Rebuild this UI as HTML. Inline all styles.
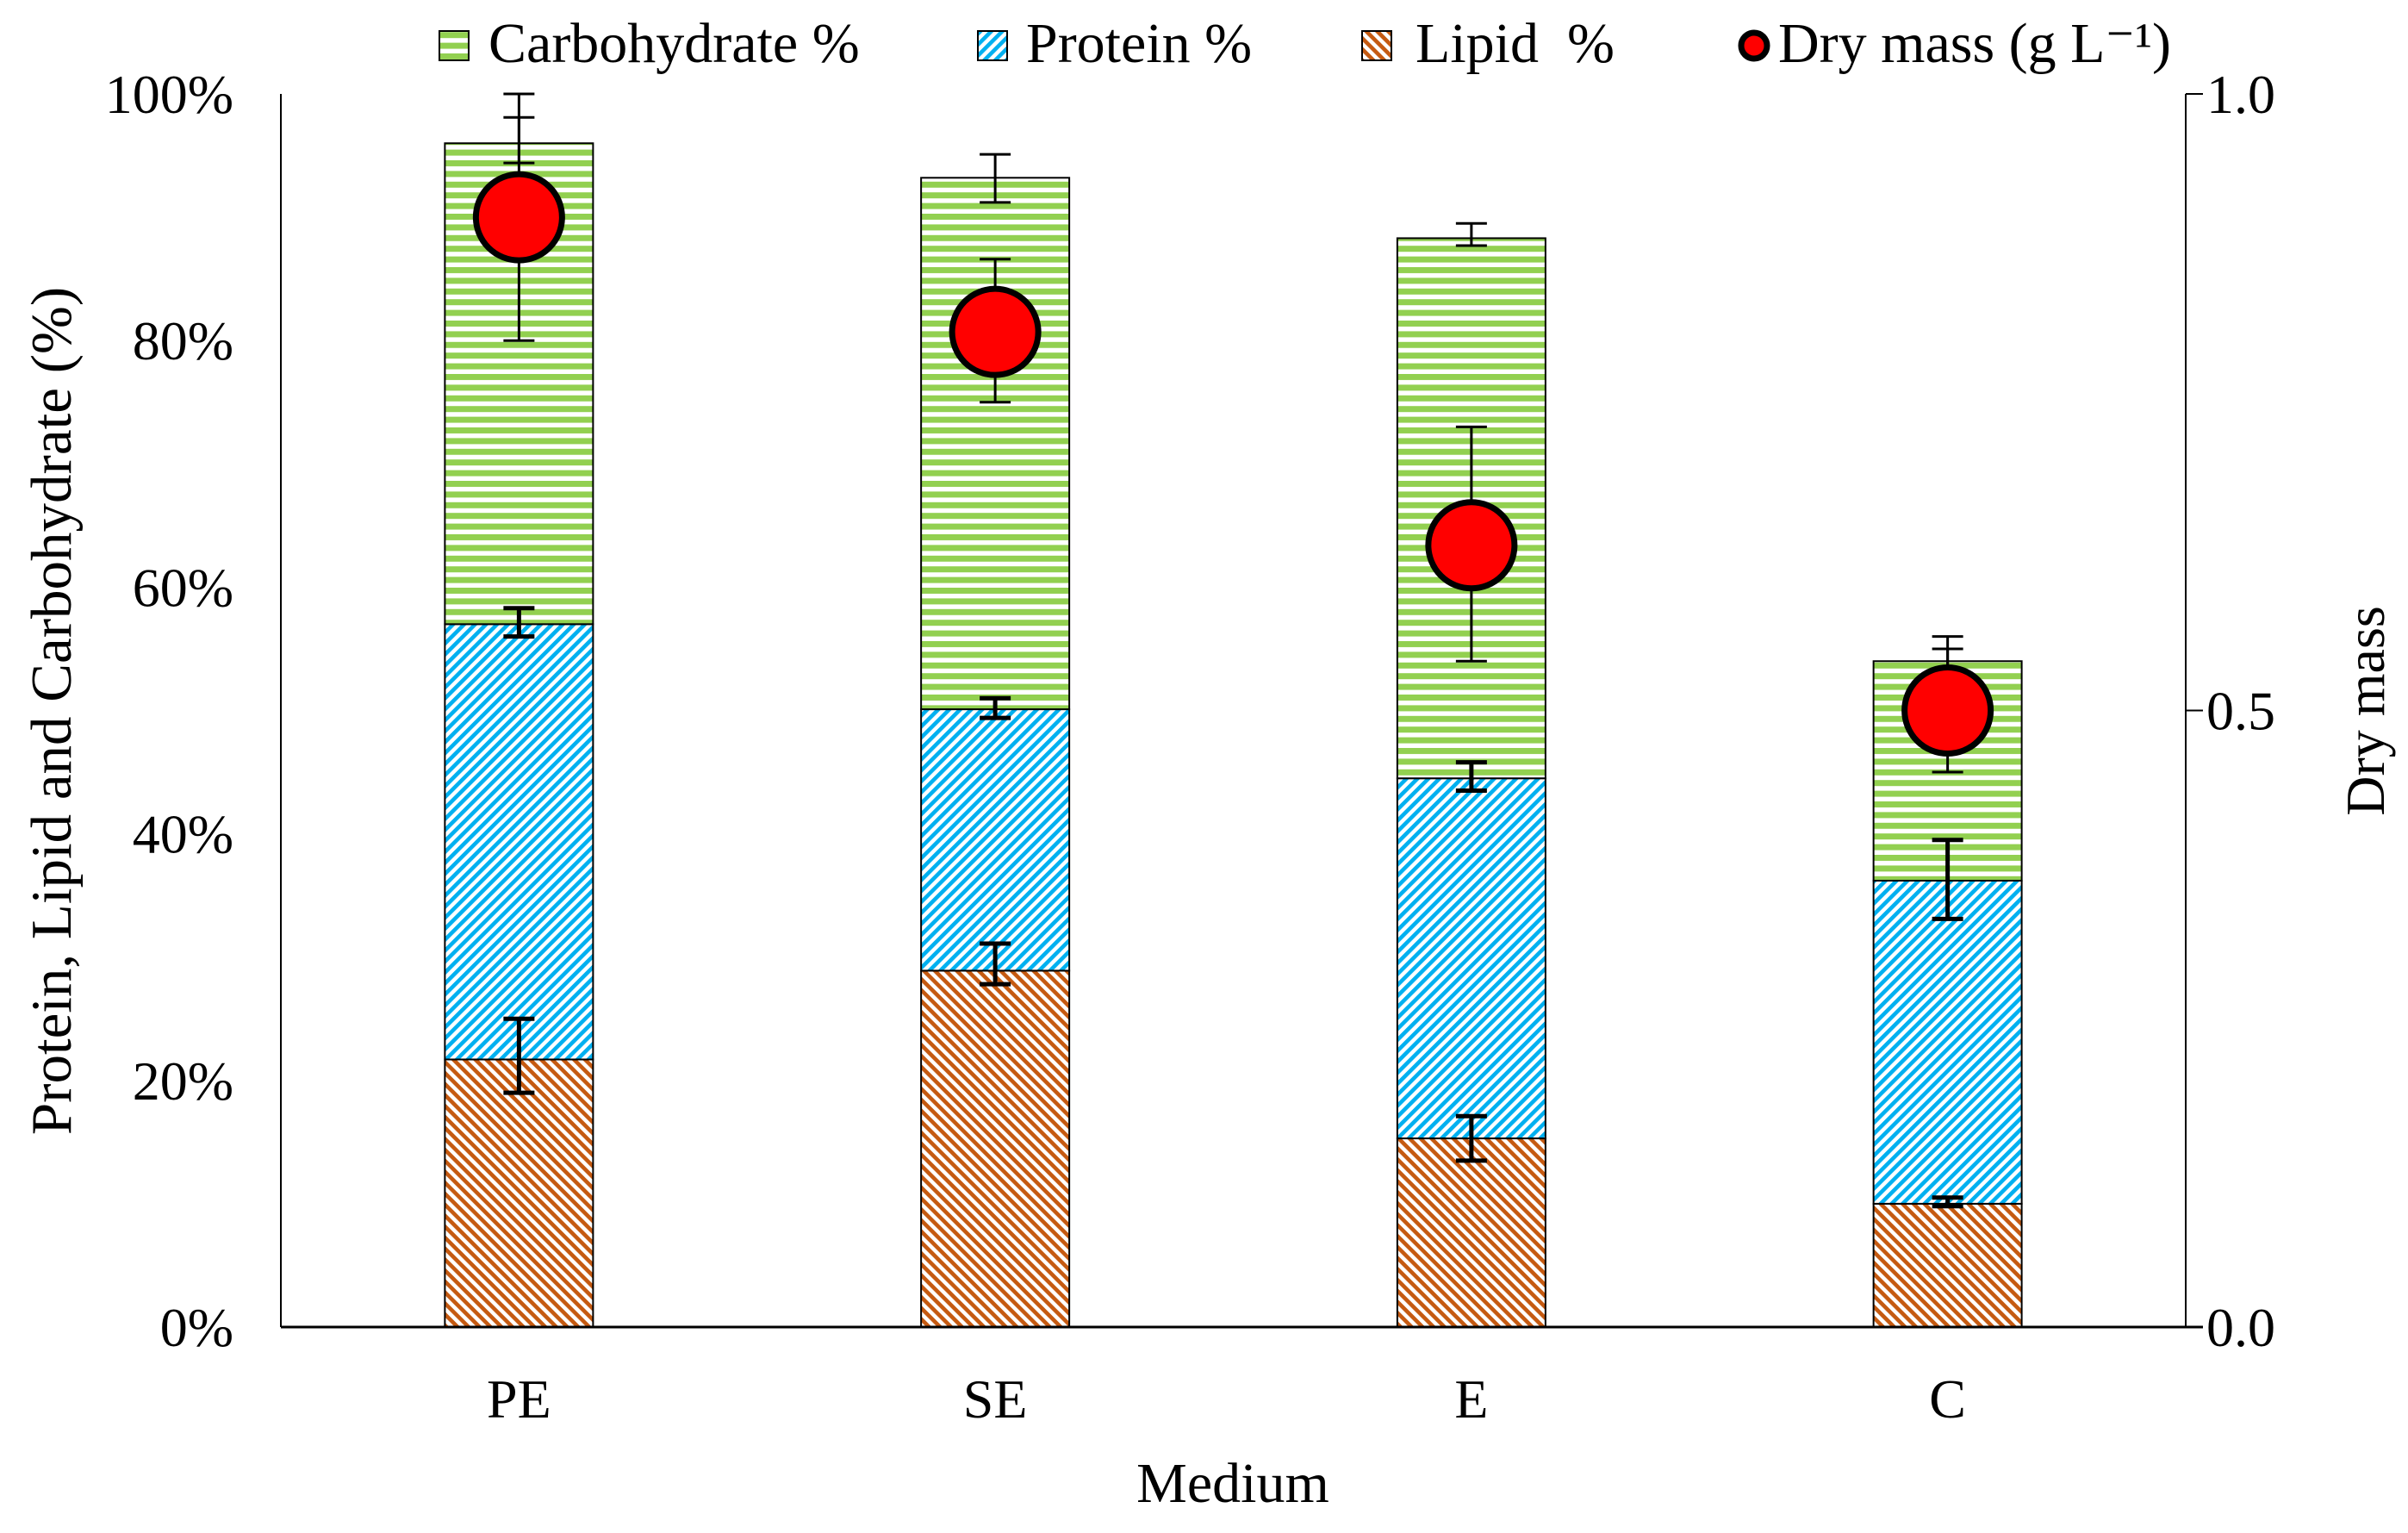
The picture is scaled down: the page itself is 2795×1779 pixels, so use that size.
<!DOCTYPE html>
<html><head><meta charset="utf-8">
<style>
html,body{margin:0;padding:0;background:#fff;}
svg{display:block;}
text{font-family:"Liberation Serif",serif;fill:#000;}
</style></head>
<body>
<svg id="chart" width="2795" height="1779" viewBox="0 0 2795 1779" xmlns="http://www.w3.org/2000/svg">
<defs>
  <pattern id="pCarb" patternUnits="userSpaceOnUse" width="12.4" height="12.4">
    <rect width="12.4" height="12.4" fill="#fff"/>
    <rect y="0" width="12.4" height="7" fill="#92D050"/>
  </pattern>
  <pattern id="pProt" patternUnits="userSpaceOnUse" width="9" height="9" patternTransform="rotate(-45)">
    <rect width="9" height="9" fill="#fff"/>
    <rect width="9" height="4.6" fill="#00B0F0"/>
  </pattern>
  <pattern id="pLip" patternUnits="userSpaceOnUse" width="9" height="9" patternTransform="rotate(45)">
    <rect width="9" height="9" fill="#fff"/>
    <rect width="9" height="4.6" fill="#C55A11"/>
  </pattern>
</defs>
<g id="plot"></g>
<g id="legend">
  <g>
    <rect x="510" y="36" width="34" height="34" fill="url(#pCarb)" stroke="#000" stroke-width="2"/>
    <text x="567" y="72" font-size="66">Carbohydrate %</text>
  </g>
  <g>
    <rect x="1135" y="36" width="34" height="34" fill="url(#pProt)" stroke="#000" stroke-width="2"/>
    <text x="1191" y="72" font-size="66">Protein %</text>
  </g>
  <g>
    <rect x="1581" y="36" width="34" height="34" fill="url(#pLip)" stroke="#000" stroke-width="2"/>
    <text x="1643" y="72" font-size="66">Lipid&#160;&#160;%</text>
  </g>
  <g>
    <circle cx="2036" cy="53" r="15" fill="#f00" stroke="#000" stroke-width="7"/>
    <text x="2064" y="72" font-size="66">Dry mass (g L⁻¹)</text>
  </g>
</g>
<text font-size="67" text-anchor="middle" transform="translate(82,825) rotate(-90)">Protein, Lipid and Carbohydrate (%)</text>
<text font-size="64" text-anchor="middle" transform="translate(2767,825) rotate(-90)">Dry mass</text>
<text font-size="66" text-anchor="middle" x="1431" y="1743">Medium</text>
</svg>
<script>
const categories = ["PE","SE","E","C"];
const lipid = [21.7, 28.9, 15.3, 10.0];
const lipidErrLo = [19.0, 27.8, 13.5, 9.8];
const lipidErrHi = [25.0, 31.1, 17.1, 10.5];
const proteinTop = [57.0, 50.1, 44.5, 36.2];
const proteinErrLo = [56.0, 49.4, 43.5, 33.1];
const proteinErrHi = [58.3, 51.0, 45.8, 39.5];
const carbTop = [96.0, 93.2, 88.3, 54.0];
const carbErrLo = [94.4, 91.2, 87.7, 52.5];
const carbErrHi = [98.1, 95.1, 89.5, 56.0];
const dryMass = [0.90, 0.807, 0.634, 0.50];
const dryErrLo = [0.80, 0.75, 0.54, 0.45];
const dryErrHi = [1.00, 0.866, 0.73, 0.55];
const leftTicks = [0,20,40,60,80,100];
const leftTickLabels = ["0%","20%","40%","60%","80%","100%"];
const rightTicks = [0,0.5,1.0];
const rightTickLabels = ["0.0","0.5","1.0"];

const NS="http://www.w3.org/2000/svg";
const X0=326, X1=2537, Y0=1540, Y1=109;
const band=(X1-X0)/categories.length, barW=172;
const yL=v=>Y0-(v/100)*(Y0-Y1);
const yR=v=>Y0-v*(Y0-Y1);
const xC=i=>X0+band*(i+0.5);
const plot=document.getElementById('plot');
function mk(tag,attrs,parent){const e=document.createElementNS(NS,tag);for(const k in attrs)e.setAttribute(k,attrs[k]);(parent||plot).appendChild(e);return e;}

categories.forEach((c,i)=>{
  const x=xC(i)-barW/2;
  const segs=[[0,lipid[i],'url(#pLip)','bar-lipid-'],[lipid[i],proteinTop[i],'url(#pProt)','bar-protein-'],[proteinTop[i],carbTop[i],'url(#pCarb)','bar-carbohydrate-']];
  segs.forEach(s=>{
    const r=mk('rect',{x:x,y:yL(s[1]),width:barW,height:yL(s[0])-yL(s[1]),fill:s[2],stroke:'#000','stroke-width':2});
    
    
  });
});
function errBar(x,ylo,yhi,name,w,cap){
  const g=mk('g',{});
  
  
  mk('line',{x1:x,x2:x,y1:ylo,y2:yhi,stroke:'#000','stroke-width':w},g);
  mk('line',{x1:x-cap,x2:x+cap,y1:ylo,y2:ylo,stroke:'#000','stroke-width':w},g);
  mk('line',{x1:x-cap,x2:x+cap,y1:yhi,y2:yhi,stroke:'#000','stroke-width':w},g);
}
categories.forEach((c,i)=>{
  const x=xC(i);
  errBar(x,yL(lipidErrLo[i]),yL(lipidErrHi[i]),'error-bar-lipid-'+c.toLowerCase(),5,18);
  errBar(x,yL(proteinErrLo[i]),yL(proteinErrHi[i]),'error-bar-protein-'+c.toLowerCase(),5,18);
  errBar(x,yL(carbErrLo[i]),yL(carbErrHi[i]),'error-bar-carbohydrate-'+c.toLowerCase(),3,18);
  errBar(x,yR(dryErrLo[i]),yR(dryErrHi[i]),'error-bar-dry-mass-'+c.toLowerCase(),3,18);
});
categories.forEach((c,i)=>{
  const p=mk('circle',{cx:xC(i),cy:yR(dryMass[i]),r:50,fill:'#f00',stroke:'#000','stroke-width':7});
  
  
});
const ax=mk('g',{});


mk('line',{x1:X0,x2:X0,y1:Y1,y2:Y0,stroke:'#000','stroke-width':2},ax);
mk('line',{x1:X1,x2:X1,y1:Y1,y2:Y0,stroke:'#000','stroke-width':2},ax);
mk('line',{x1:X0,x2:X1+20,y1:Y0,y2:Y0,stroke:'#000','stroke-width':3},ax);
leftTicks.forEach((v,i)=>{
  const t=mk('text',{x:271,y:yL(v)+22,'font-size':64,'text-anchor':'end'},ax);
  t.textContent=leftTickLabels[i];
  
  
});
rightTicks.forEach((v,i)=>{
  mk('line',{x1:X1,x2:X1+20,y1:yR(v),y2:yR(v),stroke:'#000','stroke-width':2},ax);
  const t=mk('text',{x:2561,y:yR(v)+22,'font-size':64},ax);
  t.textContent=rightTickLabels[i];
  
  
});
categories.forEach((c,i)=>{
  const t=mk('text',{x:xC(i),y:1645,'font-size':64,'text-anchor':'middle'},ax);
  t.textContent=c;
  
  
});
</script>
</body></html>
